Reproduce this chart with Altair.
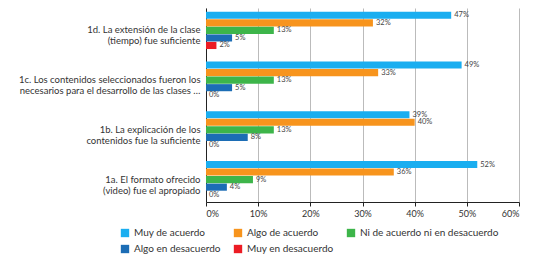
import altair as alt
import pandas as pd

categories = [
    "1d. La extensión de la clase|(tiempo)  fue suficiente",
    "1c. Los contenidos seleccionados fueron los|necesarios para el desarrollo de las clases …",
    "1b. La explicación de los|contenidos fue la suficiente",
    "1a. El formato ofrecido|(video) fue el apropiado",
]
series = ["Muy de acuerdo", "Algo de acuerdo", "Ni de acuerdo ni en desacuerdo",
          "Algo en desacuerdo", "Muy en desacuerdo"]
colors = ["#1aaef0", "#f7941d", "#3db54a", "#1c6db5", "#ec1c24"]

muy_de_acuerdo = [47, 49, 39, 52]
algo_de_acuerdo = [32, 33, 40, 36]
ni_ni = [13, 13, 13, 9]
algo_en_desacuerdo = [5, 5, 8, 4]
muy_en_desacuerdo = [2, 0, 0, 0]

values = [muy_de_acuerdo, algo_de_acuerdo, ni_ni, algo_en_desacuerdo, muy_en_desacuerdo]
rows = []
for s, vals in zip(series, values):
    for c, v in zip(categories, vals):
        rows.append({"cat": c, "serie": s, "valor": v, "label": f"{v}%"})
df = pd.DataFrame(rows)

FONT = "Lato"

base = alt.Chart(df).encode(
    y=alt.Y("cat:N", sort=categories,
            scale=alt.Scale(paddingInner=0.25, paddingOuter=0.075),
            axis=alt.Axis(title=None, labelExpr="split(datum.label, '|')",
                          labelFontSize=9.5, labelColor="#333", labelFont=FONT,
                          ticks=False, labelPadding=6, domainColor="#222",
                          labelLimit=300, labelLineHeight=11)),
    yOffset=alt.YOffset("serie:N", sort=series,
                        scale=alt.Scale(paddingInner=0.06, paddingOuter=0)),
)

bars = base.mark_bar().encode(
    x=alt.X("valor:Q", scale=alt.Scale(domain=[0, 60], nice=False),
            axis=alt.Axis(title=None, values=[0, 10, 20, 30, 40, 50, 60],
                          labelExpr="datum.value + '%'", labelFontSize=9,
                          labelColor="#333", labelFont=FONT, grid=True,
                          gridColor="#bbbbbb", domainColor="#222", tickColor="#222",
                          tickSize=4, labelPadding=3)),
    color=alt.Color("serie:N", sort=series,
                    scale=alt.Scale(domain=series, range=colors),
                    legend=alt.Legend(title=None, orient="none", legendX=-86, legendY=220,
                                      direction="horizontal",
                                      columns=3, symbolType="square", symbolSize=70,
                                      symbolStrokeWidth=0, labelFontSize=10,
                                      labelColor="#333", labelFont=FONT,
                                      columnPadding=12, rowPadding=6,
                                      symbolOpacity=1)),
)

texts = base.mark_text(align="left", baseline="middle", dx=3, fontSize=7.5,
                       color="#444", font=FONT).encode(
    x=alt.X("valor:Q"),
    text="label:N",
)

chart = (bars + texts).properties(
    width=313, height=194,
    autosize=alt.AutoSizeParams(type="none"),
    padding={"left": 198, "top": 0, "right": 12, "bottom": 53},
).configure_view(stroke=None)

chart.save("out.html", embed_options={"renderer": "svg", "actions": False})
